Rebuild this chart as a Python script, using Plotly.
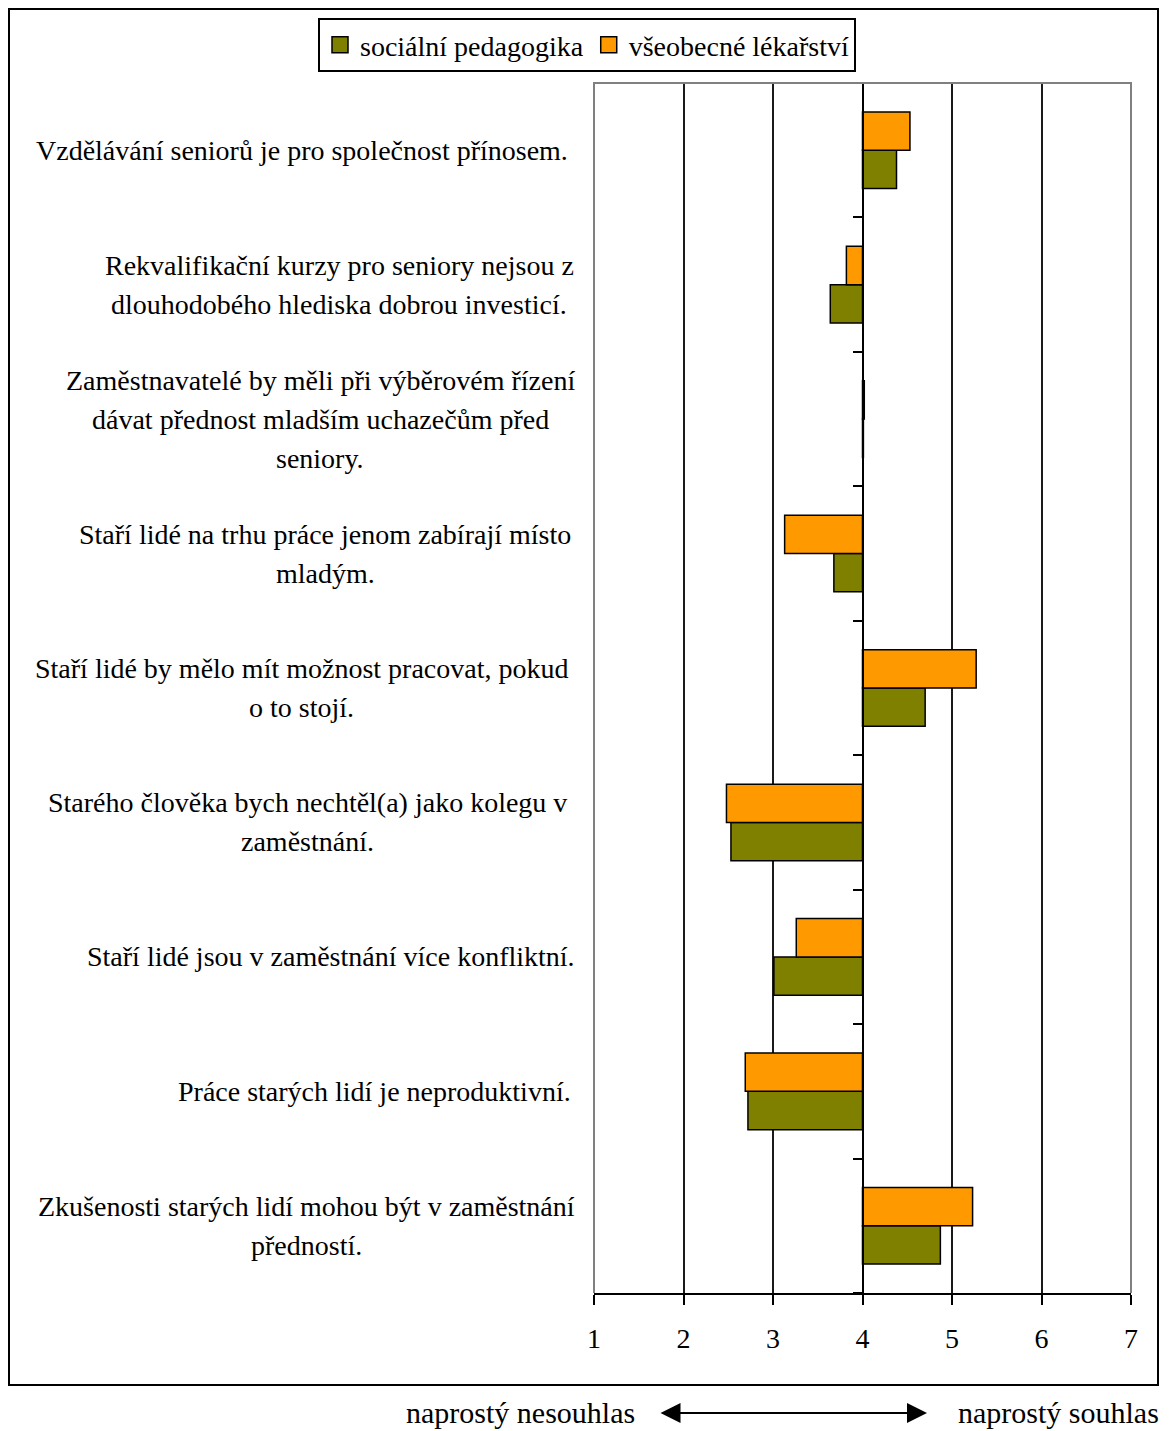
import plotly.graph_objects as go

categories = [
    "Vzdělávání seniorů je pro společnost přínosem.",
    "Rekvalifikační kurzy pro seniory nejsou z dlouhodobého hlediska dobrou investicí.",
    "Zaměstnavatelé by měli při výběrovém řízení dávat přednost mladším uchazečům před seniory.",
    "Staří lidé na trhu práce jenom zabírají místo mladým.",
    "Staří lidé by mělo mít možnost pracovat, pokud o to stojí.",
    "Starého člověka bych nechtěl(a) jako kolegu v zaměstnání.",
    "Staří lidé jsou v zaměstnání více konfliktní.",
    "Práce starých lidí je neproduktivní.",
    "Zkušenosti starých lidí mohou být v zaměstnání předností.",
]
label_lines = [
    ["Vzdělávání seniorů je pro společnost přínosem."],
    ["Rekvalifikační kurzy pro seniory nejsou z", "dlouhodobého hlediska dobrou investicí."],
    ["Zaměstnavatelé by měli při výběrovém řízení", "dávat přednost mladším uchazečům před", "seniory."],
    ["Staří lidé na trhu práce jenom zabírají místo", "mladým."],
    ["Staří lidé by mělo mít možnost pracovat, pokud", "o to stojí."],
    ["Starého člověka bych nechtěl(a) jako kolegu v", "zaměstnání."],
    ["Staří lidé jsou v zaměstnání více konfliktní."],
    ["Práce starých lidí je neproduktivní."],
    ["Zkušenosti starých lidí mohou být v zaměstnání", "předností."],
]
label_centers_px = [302, 339, 320, 325, 301, 307, 331, 374, 306]

series_names = ["sociální pedagogika", "všeobecné lékařství"]
socialni_pedagogika = [4.38, 3.64, 4.01, 3.68, 4.70, 2.53, 3.01, 2.72, 4.87]
vseobecne_lekarstvi = [4.53, 3.82, 4.02, 3.13, 5.27, 2.48, 3.26, 2.69, 5.23]
x_ticks = [1, 2, 3, 4, 5, 6, 7]
axis_left_text = "naprostý nesouhlas"
axis_right_text = "naprostý souhlas"

FONT = "Liberation Serif, Tinos, Times New Roman, serif"
COLORS = ["#808000", "#FF9900"]
W, H = 1176, 1431
L, R, T, B = 594, 45, 83, 138
PW, PH = W - L - R, H - T - B


def px_x(p):
    return (p - L) / PW


def px_y(p):
    return (H - B - p) / PH


fig = go.Figure()
for name, vals, col in zip(series_names, [socialni_pedagogika, vseobecne_lekarstvi], COLORS):
    fig.add_trace(go.Bar(
        name=name, y=categories,
        x=[v - 4 for v in vals], base=4, orientation="h",
        marker=dict(color=col, line=dict(color="black", width=1.5)),
        showlegend=False,
    ))
# legend-only entries with larger square symbols
for name, col in zip(series_names, COLORS):
    fig.add_trace(go.Scatter(
        name=name, x=[None], y=[None], mode="markers",
        marker=dict(symbol="square", size=16, color=col, line=dict(color="black", width=1.5)),
        showlegend=True,
    ))

annotations = []
LS = 39
for cat, lines, cx in zip(categories, label_lines, label_centers_px):
    n = len(lines)
    for k, line in enumerate(lines):
        annotations.append(dict(
            x=px_x(cx), xref="paper", y=cat, yref="y",
            text=line, showarrow=False, xanchor="center", yanchor="middle",
            yshift=-(k - (n - 1) / 2) * LS,
            font=dict(family=FONT, size=28, color="black"),
        ))

annotations += [
    dict(x=px_x(927), y=px_y(1413), xref="paper", yref="paper", text="",
         showarrow=True, ax=-268, ay=0, arrowside="end+start", arrowhead=2,
         arrowsize=2, arrowwidth=2, arrowcolor="black"),
    dict(x=px_x(636), y=px_y(1430), xref="paper", yref="paper",
         text=axis_left_text, showarrow=False, xanchor="right", yanchor="bottom",
         borderpad=0, font=dict(family=FONT, size=30, color="black")),
    dict(x=px_x(957), y=px_y(1430), xref="paper", yref="paper",
         text=axis_right_text, showarrow=False, xanchor="left", yanchor="bottom",
         borderpad=0, font=dict(family=FONT, size=30, color="black")),
]

shapes = [
    dict(type="path", xref="paper", yref="paper",
         path="M 0,0 L 0,1 L 1,1 L 1,0", line=dict(color="#808080", width=2)),
    dict(type="rect", xref="paper", yref="paper",
         x0=px_x(9), x1=px_x(1158), y0=px_y(1385), y1=px_y(9),
         line=dict(color="black", width=2)),
]

fig.update_layout(
    width=W, height=H,
    margin=dict(l=L, r=R, t=T, b=B, autoexpand=False),
    paper_bgcolor="white", plot_bgcolor="white",
    barmode="group", bargap=0.43, bargroupgap=0,
    font=dict(family=FONT, size=28, color="black"),
    showlegend=True,
    legend=dict(orientation="h", x=px_x(587), y=px_y(18), xanchor="center", yanchor="top",
                bordercolor="black", borderwidth=2, bgcolor="white",
                font=dict(family=FONT, size=28), traceorder="normal",
                itemwidth=30, tracegroupgap=0),
    xaxis=dict(range=[1, 7], tickvals=x_ticks, ticktext=[str(t) for t in x_ticks],
               showgrid=True, gridcolor="#1a1a1a", gridwidth=2,
               showline=True, linecolor="black", linewidth=2,
               ticks="outside", ticklen=10, tickwidth=2, tickcolor="black",
               ticklabelstandoff=9,
               tickfont=dict(family=FONT, size=28), zeroline=False, fixedrange=True),
    yaxis=dict(categoryorder="array", categoryarray=categories[::-1],
               anchor="free", position=0.5, showline=True, linecolor="black", linewidth=2,
               ticks="outside", tickson="boundaries", ticklen=9, tickwidth=2, tickcolor="black",
               showticklabels=False, showgrid=False, zeroline=False, fixedrange=True),
    annotations=annotations, shapes=shapes,
)

fig.write_html("out.html")
